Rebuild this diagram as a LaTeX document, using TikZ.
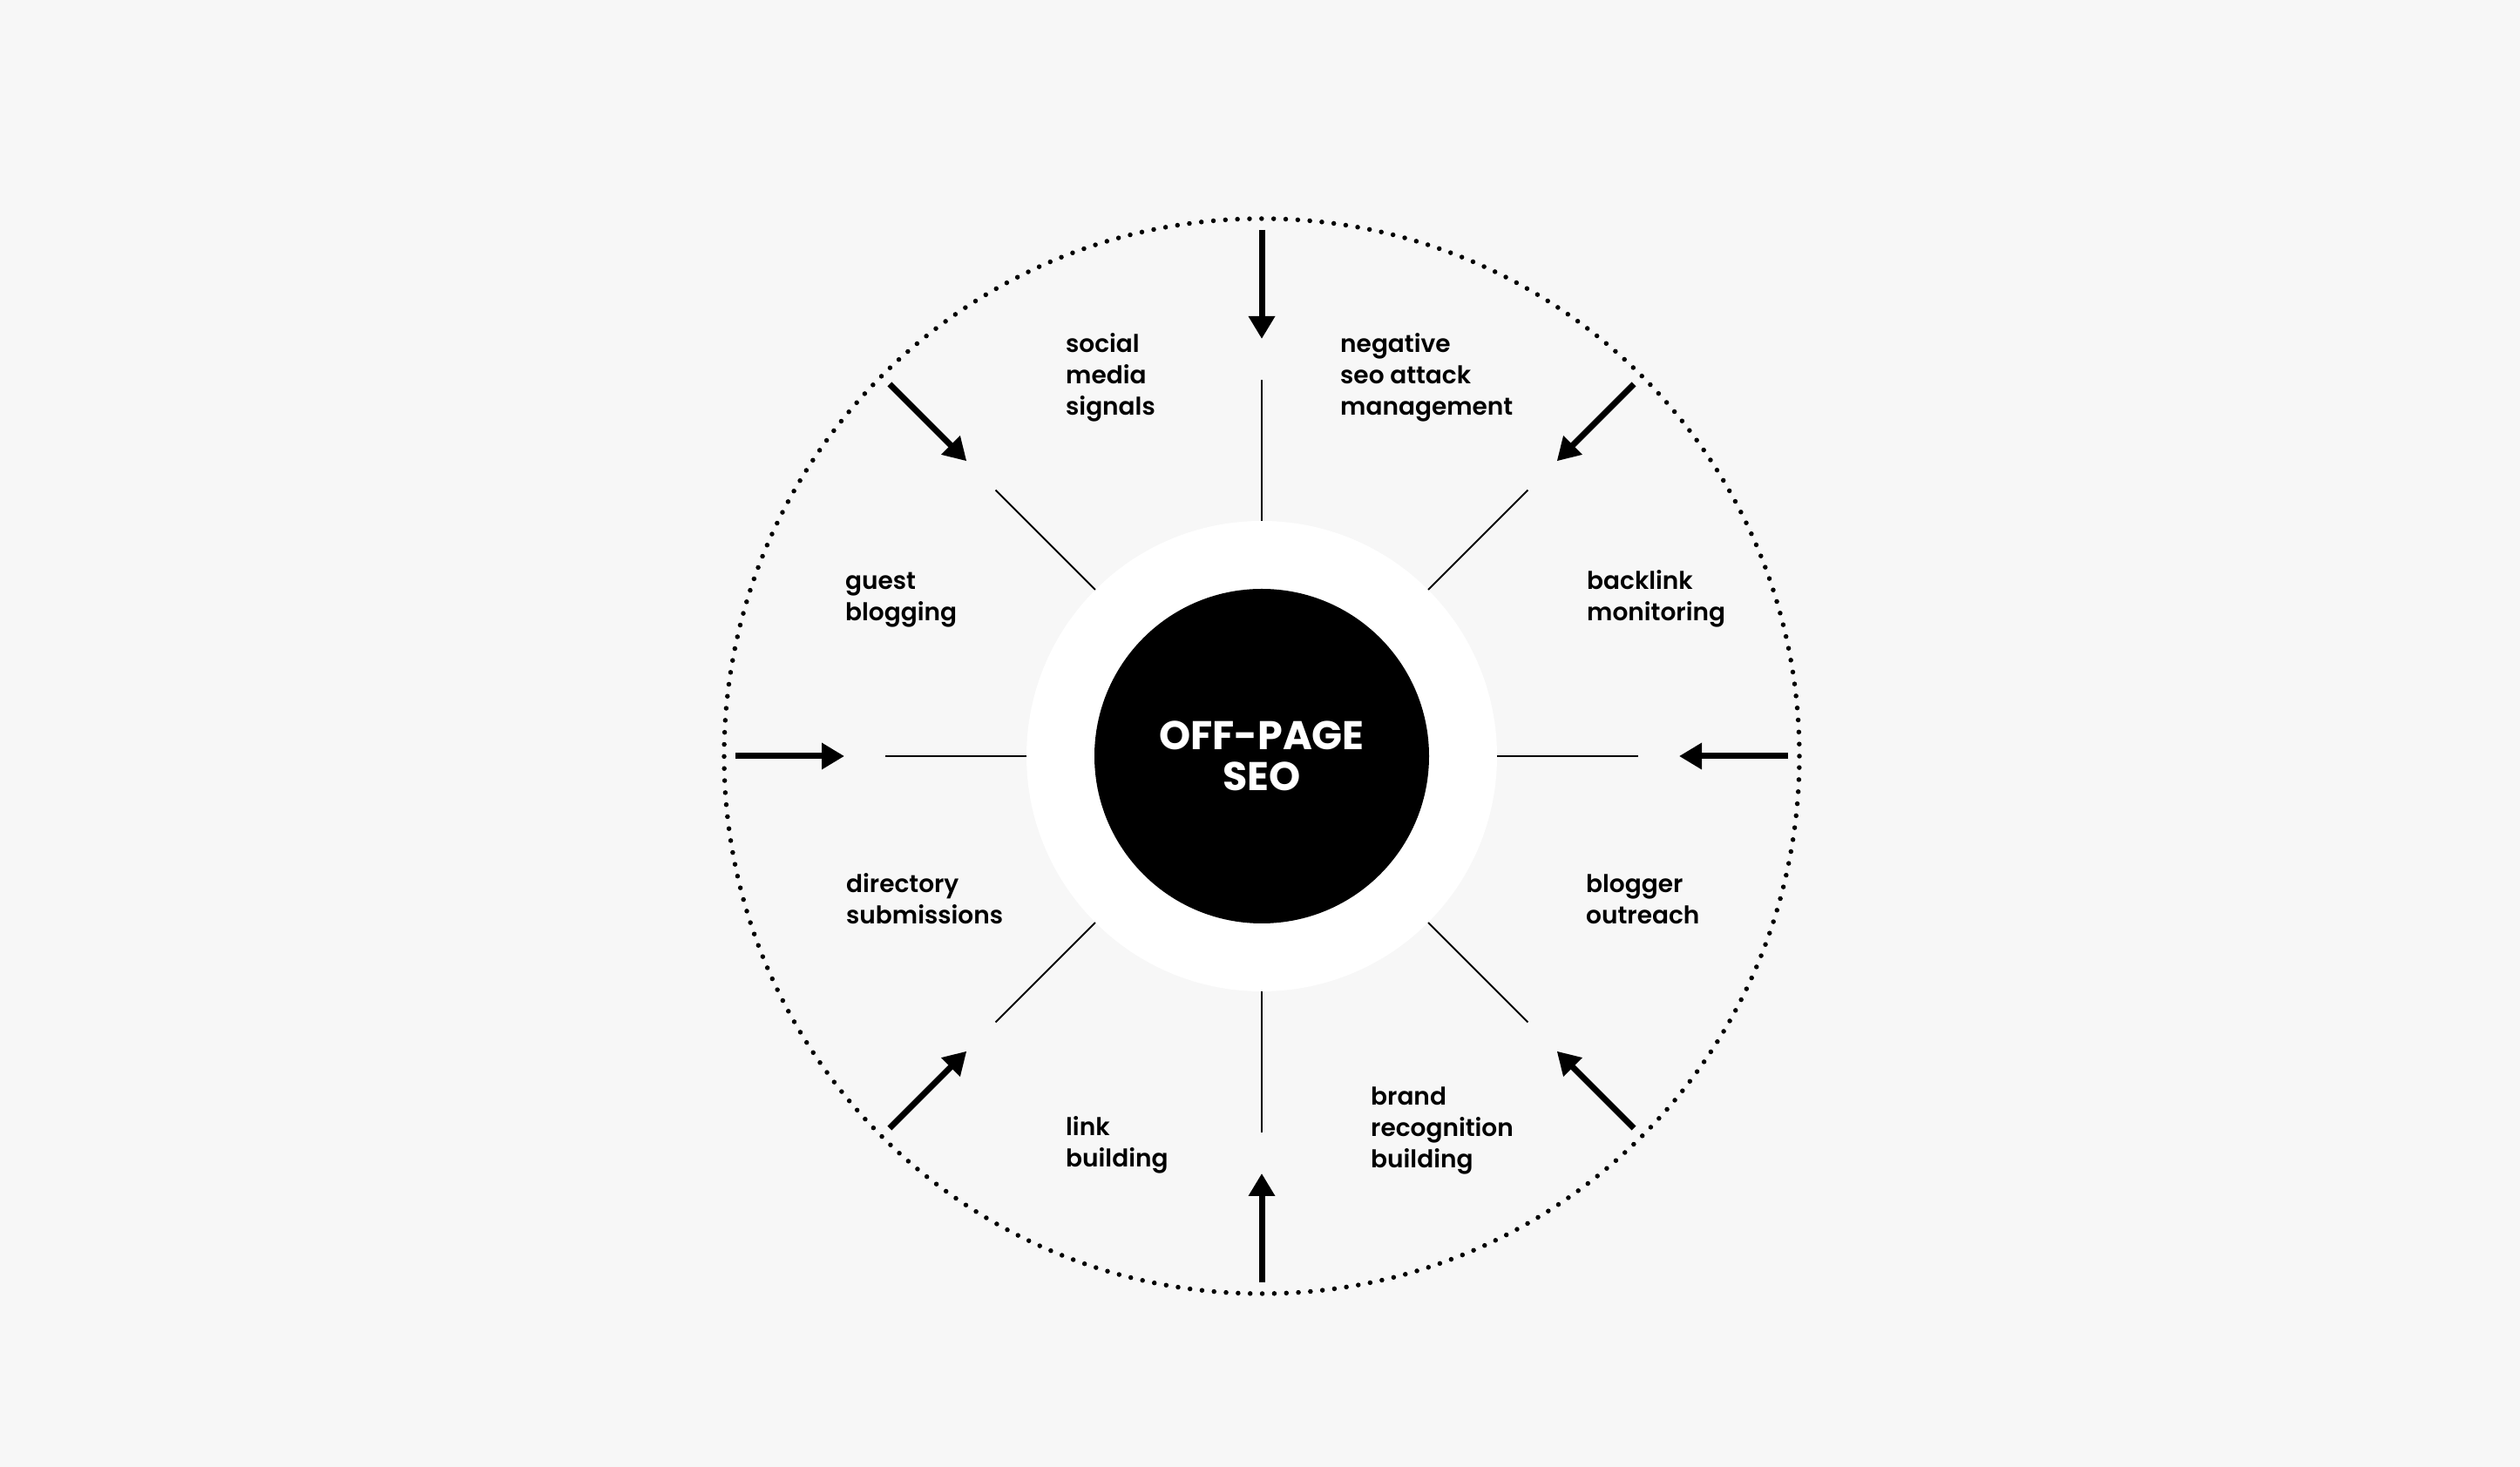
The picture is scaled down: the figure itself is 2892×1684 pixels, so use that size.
\documentclass[tikz,border=0pt]{standalone}
\usepackage{fontspec}
\setmainfont{Poppins}[UprightFont=* SemiBold, BoldFont=* Bold]
\usetikzlibrary{arrows.meta,calc}
\definecolor{bgc}{HTML}{F7F7F7}
\newcommand\lblines[1]{\vtop{\baselineskip=36pt\halign{##\hfil\cr#1\crcr}}}
\tikzset{
  spoke/.style={line width=2pt, black},
  inarrow/.style={line width=7pt, black, -{Triangle[length=26pt,width=29pt]}},
  dotring/.style={line width=5.5pt, line cap=round, dash pattern=on 0pt off 13.85pt},
  lbl/.style={anchor=base west, inner sep=0pt, font=\fontsize{28}{36}\selectfont},
}
\begin{document}
\begin{tikzpicture}[x=1pt,y=1pt]
\fill[bgc] (0,0) rectangle (2892,1684);
\useasboundingbox (0,0) rectangle (2892,1684);
\coordinate (c) at (1448,816);
\draw[dotring] (c) circle[radius=617pt];
\node[circle, fill=white, minimum size=540pt, inner sep=0pt] (ring) at (c) {};
\node[circle, fill=black, minimum size=384pt, inner sep=0pt, text=white, align=center,
      font=\bfseries\fontsize{46}{47}\selectfont] (core) at (c) {OFF-PAGE\\SEO};
\foreach \a [count=\i] in {0,45,...,315}{
  \coordinate (s\i) at ($(c)+(\a:432pt)$);
  \coordinate (t\i) at ($(c)+(\a:604pt)$);
  \coordinate (h\i) at ($(c)+(\a:479pt)$);
  \draw[spoke] (ring.\a) -- (s\i);
  \draw[inarrow] (t\i) -- (h\i);
}
\node[lbl] (social) at (1223,1279) {\lblines{social\cr media\cr signals}};
\node[lbl] (negative) at (1538,1279) {\lblines{negative\cr seo attack\cr management}};
\node[lbl] (guest) at (970,1007) {\lblines{guest\cr blogging}};
\node[lbl] (backlink) at (1821,1007) {\lblines{backlink\cr monitoring}};
\node[lbl] (directory) at (971,659) {\lblines{directory\cr submissions}};
\node[lbl] (blogger) at (1820,659) {\lblines{blogger\cr outreach}};
\node[lbl] (link) at (1223,380) {\lblines{link\cr building}};
\node[lbl] (brand) at (1573,415) {\lblines{brand\cr recognition\cr building}};
\end{tikzpicture}
\end{document}
